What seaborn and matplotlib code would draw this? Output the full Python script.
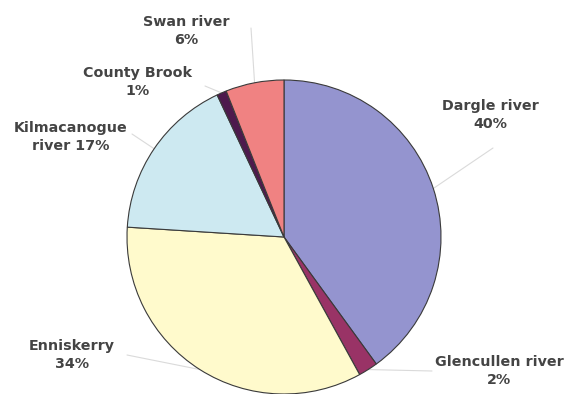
import matplotlib
matplotlib.use("Agg")
import matplotlib.pyplot as plt
import seaborn as sns
import numpy as np

categories = ["Dargle river", "Glencullen river", "Enniskerry",
              "Kilmacanogue river", "County Brook", "Swan river"]
values = [40, 2, 34, 17, 1, 6]
label_texts = ["Dargle river\n40%", "Glencullen river\n2%", "Enniskerry\n34%",
               "Kilmacanogue\nriver 17%", "County Brook\n1%", "Swan river\n6%"]
colors = ["#9494cf", "#993366", "#fffacc", "#cde9f1", "#4d1a4d", "#f08282"]

sns.set_theme(style="white")
plt.rcParams['font.family'] = ['DejaVu Sans']

W, H = 572, 394
fig = plt.figure(figsize=(W / 100, H / 100), dpi=100)
cx, cy, R = 284, 237, 157
ax = fig.add_axes([(cx - R) / W, (H - cy - R) / H, 2 * R / W, 2 * R / H])

wedges, _ = ax.pie(values, colors=colors, startangle=90, counterclock=False,
                   radius=1, wedgeprops=dict(edgecolor="#3a3a3a", linewidth=0.8))
ax.set_xlim(-1, 1)
ax.set_ylim(-1, 1)
ax.set_axis_off()
for w in wedges:
    w.set_clip_on(False)

def px(x, y):
    return ((x - cx) / R, (cy - y) / R)

# label centre positions (pixels) and leader line end points (pixels)
label_pos = [(490, 115), (499, 371), (72, 355), (71, 137), (138, 82), (186, 31)]
line_end = [(493, 148), (432, 371), (127, 355), (132, 134), (205, 86), (251, 28)]

for w, txt, lp, le in zip(wedges, label_texts, label_pos, line_end):
    ang = np.deg2rad((w.theta1 + w.theta2) / 2)
    sx, sy = np.cos(ang), np.sin(ang)
    ex, ey = px(*le)
    ax.plot([sx, ex], [sy, ey], color="#dadada", lw=0.8, clip_on=False, zorder=0)
    tx, ty = px(*lp)
    ax.text(tx, ty, txt, ha="center", va="center", fontsize=10.3, fontweight="bold",
            color="#444444", linespacing=1.4, clip_on=False)

fig.savefig("out.png", dpi=100, facecolor="white")
